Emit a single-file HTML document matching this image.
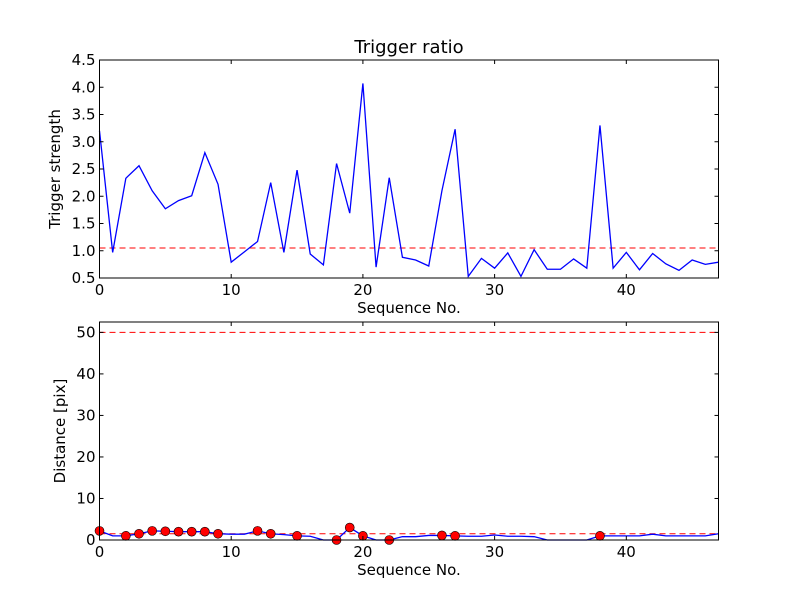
<!DOCTYPE html>
<html><head><meta charset="utf-8"><style>body{margin:0;background:#fff}svg{display:block;font-family:"DejaVu Sans","Liberation Sans",sans-serif}</style></head>
<body>
<svg id="c" width="800" height="600" viewBox="0 0 800 600"></svg>
<script>
const seq = Array.from({length:48},(_,i)=>i);
const strength = [3.2,0.97,2.33,2.56,2.1,1.77,1.92,2.01,2.8,2.22,0.79,0.98,1.17,2.25,0.97,2.48,0.94,0.74,2.6,1.69,4.07,0.7,2.34,0.88,0.83,0.72,2.1,3.23,0.53,0.86,0.68,0.96,0.53,1.02,0.66,0.66,0.85,0.68,3.3,0.68,0.97,0.65,0.95,0.76,0.64,0.83,0.75,0.79];
const strengthThreshold = 1.05;
const distance = [2.2,1.0,1.0,1.5,2.2,2.1,2.0,2.0,2.0,1.5,1.4,1.4,2.2,1.5,1.3,1.0,0.9,0,0,3.0,1.0,0,0,0.8,0.8,1.1,1.1,1.0,0.9,0.9,1.2,0.9,0.9,0.8,0,0,0,0,1.0,1.0,1.0,1.0,1.4,1.0,1.0,1.0,1.0,1.5];
const markerIdx = [0,2,3,4,5,6,7,8,9,12,13,15,18,19,20,22,26,27,38];
const distThresholds = [1.5,50];
const xTicks = [0,10,20,30,40];
const yTicksTop = ["0.5","1.0","1.5","2.0","2.5","3.0","3.5","4.0","4.5"];
const yTicksBot = [0,10,20,30,40,50];

const NS="http://www.w3.org/2000/svg";
const svg=document.getElementById('c');
function mk(tag,attrs,parent){const e=document.createElementNS(NS,tag);for(const k in attrs)e.setAttribute(k,attrs[k]);(parent||svg).appendChild(e);return e;}
const L=99.5,R=718.5;
const xs=v=>L+(v-0)/(47-0)*(R-L);
function axes(top,bot,ymin,ymax,name){
  const ys=v=>bot-(v-ymin)/(ymax-ymin)*(bot-top);
  const g=mk('g',{});
  
  
  return {g,ys,top,bot};
}
function frame(a,ticksY,fmt,xlabel,ylabel){
  const {g,ys,top,bot}=a;
  const r=mk('rect',{x:L,y:top,width:R-L,height:bot-top,fill:'none',stroke:'#000','stroke-width':1},g);
  
  
  xTicks.forEach(t=>{
    const x=xs(t);
    mk('line',{x1:x,y1:bot,x2:x,y2:bot-4,stroke:'#000'},g);
    mk('line',{x1:x,y1:top,x2:x,y2:top+4,stroke:'#000'},g);
    const tx=mk('text',{x:x,y:bot+17,'font-size':15,'text-anchor':'middle'},g);
    tx.textContent=t;
    
    
  });
  ticksY.forEach(t=>{
    const y=ys(+t);
    mk('line',{x1:L,y1:y,x2:L+4,y2:y,stroke:'#000'},g);
    mk('line',{x1:R,y1:y,x2:R-4,y2:y,stroke:'#000'},g);
    const tx=mk('text',{x:L-4,y:y+5,'font-size':15,'text-anchor':'end'},g);
    tx.textContent=t;
    
    
  });
  const xl=mk('text',{x:(L+R)/2,y:bot+35,'font-size':15,'text-anchor':'middle'},g);
  xl.textContent=xlabel;
  
  
  const yl=mk('text',{x:0,y:0,'font-size':15,'text-anchor':'middle',transform:`translate(${fmt},${(top+bot)/2}) rotate(-90)`},g);
  yl.textContent=ylabel;
  
  
}
// top
const A=axes(60,278,0.5,4.5,'trigger-strength-axes');
const tl=mk('line',{x1:L,x2:R,y1:A.ys(strengthThreshold),y2:A.ys(strengthThreshold),stroke:'#f00','stroke-dasharray':'6,4'},A.g);


const p1=mk('polyline',{points:seq.map(i=>xs(i)+','+A.ys(strength[i])).join(' '),fill:'none',stroke:'#00f','stroke-width':1.3},A.g);


frame(A,yTicksTop,60,'Sequence No.','Trigger strength');
const title=mk('text',{x:(L+R)/2,y:53,'font-size':18,'text-anchor':'middle'});
title.textContent='Trigger ratio';


// bottom
const B=axes(322,540,0,52.5,'distance-axes');
distThresholds.forEach(t=>{
  const l=mk('line',{x1:L,x2:R,y1:B.ys(t),y2:B.ys(t),stroke:'#f00','stroke-dasharray':'6,4'},B.g);
  
  
});
const p2=mk('polyline',{points:seq.map(i=>xs(i)+','+B.ys(distance[i])).join(' '),fill:'none',stroke:'#00f','stroke-width':1.3},B.g);


markerIdx.forEach(i=>{
  const c=mk('circle',{cx:xs(i),cy:B.ys(distance[i]),r:4.5,fill:'#f00',stroke:'#000','stroke-width':0.6},B.g);
  
  
});
frame(B,yTicksBot,65,'Sequence No.','Distance [pix]');
</script>
</body></html>
